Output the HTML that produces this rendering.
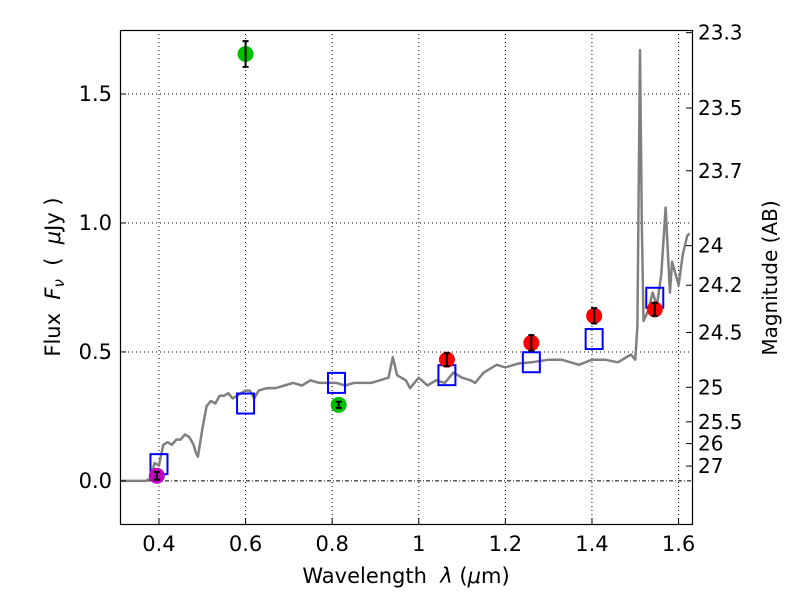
<!DOCTYPE html>
<html><head><meta charset="utf-8"><style>
body{margin:0;background:#fff;}
svg text{font-family:"DejaVu Sans","Liberation Sans",sans-serif;fill:#000;}
</style></head><body>
<svg id="chart" width="800" height="600" xmlns="http://www.w3.org/2000/svg">
<rect x="0" y="0" width="800" height="600" fill="#fff"/>
<g id="grid"></g>
<g id="marks"></g>
<rect x="120.5" y="30.5" width="572" height="494" fill="none" stroke="#000" stroke-width="1.2"/>
<g id="axes"></g>
<text x="406" y="583" font-size="21" text-anchor="middle" xml:space="preserve">Wavelength  <tspan font-style="italic">λ</tspan> (<tspan font-style="italic">μ</tspan>m)</text>
<text transform="translate(60,277) rotate(-90)" font-size="21" text-anchor="middle" xml:space="preserve">Flux  <tspan font-style="italic">F<tspan font-size="15" dy="4">ν</tspan></tspan><tspan dy="-4">  (  </tspan><tspan font-style="italic">μ</tspan>Jy )</text>
<text transform="translate(777,278) rotate(-90)" font-size="20" text-anchor="middle">Magnitude (AB)</text>
</svg>
<script>
const specLam=[0.31,0.37,0.38,0.39,0.40,0.405,0.41,0.42,0.43,0.44,0.45,0.46,0.47,0.48,0.485,0.49,0.50,0.51,0.52,0.53,0.54,0.55,0.56,0.57,0.58,0.59,0.60,0.61,0.62,0.63,0.65,0.67,0.69,0.71,0.73,0.75,0.77,0.79,0.81,0.83,0.85,0.87,0.89,0.91,0.93,0.94,0.95,0.97,0.98,1.00,1.02,1.04,1.06,1.08,1.10,1.12,1.13,1.15,1.18,1.20,1.23,1.26,1.30,1.33,1.37,1.40,1.43,1.46,1.49,1.50,1.505,1.511,1.515,1.519,1.53,1.54,1.55,1.56,1.57,1.58,1.585,1.59,1.60,1.61,1.62,1.625];
const specFlux=[0,0,0.01,0.07,0.06,0.1,0.14,0.15,0.14,0.16,0.16,0.18,0.17,0.14,0.11,0.094,0.2,0.29,0.31,0.3,0.33,0.33,0.34,0.32,0.33,0.34,0.35,0.35,0.32,0.35,0.36,0.36,0.37,0.38,0.37,0.39,0.38,0.38,0.38,0.37,0.38,0.38,0.38,0.39,0.4,0.48,0.41,0.39,0.36,0.4,0.37,0.39,0.38,0.42,0.4,0.39,0.38,0.42,0.45,0.44,0.455,0.46,0.47,0.47,0.45,0.47,0.47,0.46,0.49,0.47,0.6,1.67,1.0,0.62,0.66,0.73,0.68,0.8,1.06,0.73,0.85,0.82,0.76,0.88,0.95,0.96];
const photLam=[0.395,0.6,0.815,1.065,1.26,1.405,1.545];
const photFlux=[0.02,1.655,0.295,0.47,0.535,0.64,0.665];
const photErr=[0.015,0.05,0.012,0.025,0.03,0.03,0.025];
const photColor=['#bf00bf','#00bf00','#00bf00','#ff0000','#ff0000','#ff0000','#ff0000'];
const modelLam=[0.4,0.6,0.81,1.065,1.26,1.405,1.545];
const modelFlux=[0.065,0.3,0.38,0.41,0.46,0.55,0.71];
const xTicks=[0.4,0.6,0.8,1.0,1.2,1.4,1.6];
const xTickLabels=['0.4','0.6','0.8','1','1.2','1.4','1.6'];
const yTicks=[0,0.5,1.0,1.5];
const yTickLabels=['0.0','0.5','1.0','1.5'];
const magTicks=[23.3,23.5,23.7,24,24.2,24.5,25,25.5,26,27];

const X0=120,X1=692,Y0=30,Y1=524,xmin=0.31,xmax=1.631,ymin=-0.167,ymax=1.748;
const sx=v=>X0+(v-xmin)/(xmax-xmin)*(X1-X0);
const sy=v=>Y1-(v-ymin)/(ymax-ymin)*(Y1-Y0);
const NS='http://www.w3.org/2000/svg';
function mk(tag,attrs,parent){const e=document.createElementNS(NS,tag);for(const k in attrs)e.setAttribute(k,attrs[k]);parent.appendChild(e);return e;}
const grid=document.getElementById('grid'),marks=document.getElementById('marks'),axes=document.getElementById('axes');
xTicks.forEach((t,i)=>{
 const x=sx(t);
 const g=mk('line',{x1:x,x2:x,y1:Y0,y2:Y1,stroke:'#000','stroke-dasharray':'1,3','stroke-width':1},grid);
 
 const tk=mk('line',{x1:x,x2:x,y1:Y1,y2:Y1-6,stroke:'#000'},axes);
 
 const tl=mk('text',{x:x,y:Y1+27,'font-size':21,'text-anchor':'middle'},axes);tl.textContent=xTickLabels[i];
 
});
yTicks.forEach((t,i)=>{
 const y=sy(t);
 const g=mk('line',{x1:X0,x2:X1,y1:y,y2:y,stroke:'#000','stroke-dasharray':t===0?'4,2,1,2':'1,3','stroke-width':1},grid);
 
 const tk=mk('line',{x1:X0,x2:X0+6,y1:y,y2:y,stroke:'#000'},axes);
 
 const tl=mk('text',{x:X0-8,y:y+7,'font-size':21,'text-anchor':'end'},axes);tl.textContent=yTickLabels[i];
 
});
magTicks.forEach(m=>{
 const y=sy(Math.pow(10,(23.9-m)/2.5));
 const tk=mk('line',{x1:X1-6,x2:X1,y1:y,y2:y,stroke:'#000'},axes);
 
 const tl=mk('text',{x:X1+6,y:y+7,'font-size':20},axes);tl.textContent=String(m);
 
});
const d=specLam.map((l,i)=>(i?'L':'M')+sx(l).toFixed(1)+','+sy(specFlux[i]).toFixed(1)).join('');
const sp=mk('path',{d:d,fill:'none',stroke:'#808080','stroke-width':2.5,'stroke-linejoin':'round'},marks);

modelLam.forEach((l,i)=>{
 const r=mk('rect',{x:sx(l)-8.5,y:sy(modelFlux[i])-10,width:17,height:20,fill:'none',stroke:'#0000ff','stroke-width':2},marks);
 
});
photLam.forEach((l,i)=>{
 const x=sx(l),y=sy(photFlux[i]);
 const c=mk('circle',{cx:x,cy:y,r:8,fill:photColor[i]},marks);
 
 const ya=sy(photFlux[i]+photErr[i]),yb=sy(photFlux[i]-photErr[i]);
 const e=mk('path',{d:`M${x},${ya}L${x},${yb}M${x-3},${ya}L${x+3},${ya}M${x-3},${yb}L${x+3},${yb}`,stroke:'#000','stroke-width':2,fill:'none'},marks);
 
});
</script>
</body></html>
